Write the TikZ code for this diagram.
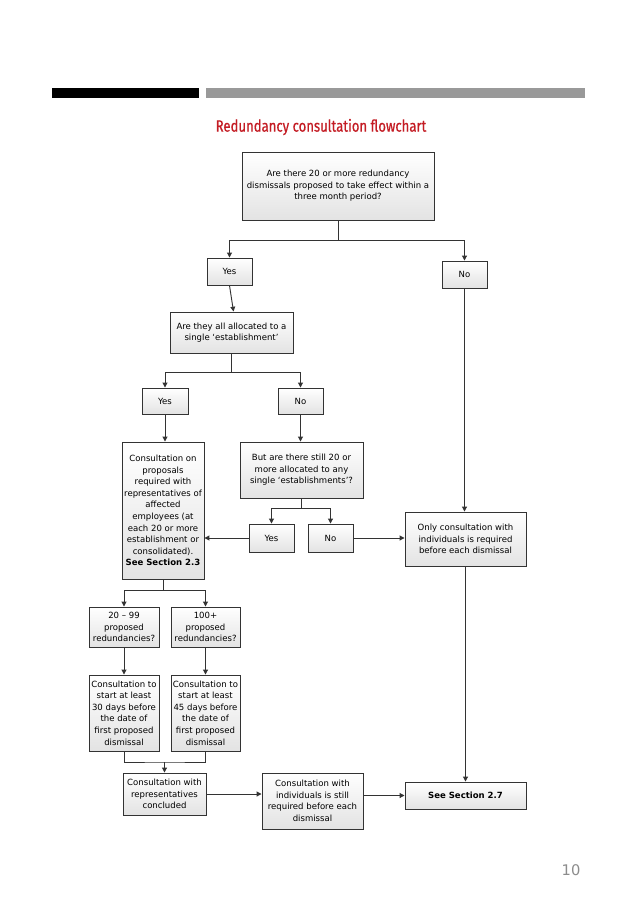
\documentclass[tikz,border=0pt]{standalone}
\usepackage{fontspec}
\setmainfont{DejaVu Sans}
\newfontfamily\titlefont[FakeStretch=0.80,FakeBold=0.6]{Fira Sans}
\usetikzlibrary{arrows.meta}
\definecolor{ttl}{HTML}{C41C24}
\definecolor{lnc}{HTML}{333333}
\begin{document}
\begin{tikzpicture}[x=0.75pt,y=-0.75pt,
  box/.style={draw=lnc, line width=0.7pt, top color=white, bottom color=black!11,
    align=center, inner sep=0pt, font=\fontsize{6.4}{8.7}\selectfont, text=black},
  sz/.style 2 args={minimum width={#1*0.75pt}, minimum height={#2*0.75pt}},
  arr/.style={draw=lnc, line width=0.7pt, -{Triangle[length=3.6pt,width=3.6pt]}},
  cn/.style={draw=lnc, line width=0.7pt}]
\useasboundingbox (0,0) rectangle (638,903);
\fill[white] (0,0) rectangle (638,903);
% header bars
\fill[black] (52,88) rectangle (199,98);
\fill[black!40] (206,88) rectangle (585,98);
\node[font=\titlefont\fontsize{12.3}{14}\selectfont, text=ttl] (title) at (321,127) {Redundancy consultation flowchart};
\node[font=\fontsize{11}{13}\selectfont, text=black!45] (pg) at (571,870) {10};

% nodes
\node[box, sz={192}{68}] (q1) at (338,186) {Are there 20 or more redundancy\\dismissals proposed to take effect within a\\three month period?};
\node[box, sz={45}{27}] (yes1) at (229.5,271.5) {Yes};
\node[box, sz={45}{27}] (no1) at (464.5,274.5) {No};
\node[box, sz={123}{41}] (q2) at (231.5,332.5) {Are they all allocated to a\\single ‘establishment’};
\node[box, sz={46}{26}] (yes2) at (165,401) {Yes};
\node[box, sz={45}{26}] (no2) at (300.5,401) {No};
\node[box, sz={82}{137}] (cons) at (163,510.5) {Consultation on\\proposals\\required with\\representatives of\\affected\\employees (at\\each 20 or more\\establishment or\\consolidated).\\\textbf{See Section 2.3}};
\node[box, sz={123}{56}] (q3) at (301.5,470) {But are there still 20 or\\more allocated to any\\single ‘establishments’?};
\node[box, sz={45}{28}] (yes3) at (271.5,538) {Yes};
\node[box, sz={45}{28}] (no3) at (330.5,538) {No};
\node[box, sz={121}{54}] (only) at (465.5,539) {Only consultation with\\individuals is required\\before each dismissal};
\node[box, sz={70}{40}] (r1) at (124,627) {20 – 99\\proposed\\redundancies?};
\node[box, sz={69}{40}] (r2) at (205.5,627) {100+\\proposed\\redundancies?};
\node[box, sz={70}{76}] (c30) at (124,713) {Consultation to\\start at least\\30 days before\\the date of\\first proposed\\dismissal};
\node[box, sz={69}{76}] (c45) at (205.5,713) {Consultation to\\start at least\\45 days before\\the date of\\first proposed\\dismissal};
\node[box, sz={83}{42}] (concl) at (164.5,794) {Consultation with\\representatives\\concluded};
\node[box, sz={101}{56}] (still) at (312.5,801) {Consultation with\\individuals is still\\required before each\\dismissal};
\node[box, sz={121}{27}] (see) at (465.5,795.5) {\textbf{See Section 2.7}};

% junctions
\coordinate (j1) at (338,240);
\coordinate (j2) at (231.5,372);
\coordinate (j3) at (301.5,508);
\coordinate (j4) at (163,590);
\coordinate (j5) at (164.5,762);

% connectors
\draw[cn] (q1.south) -- (j1);
\draw[arr] (j1) -| (yes1.north);
\draw[arr] (j1) -| (no1.north);
\draw[arr] (yes1.south) -- ([xshift=1.5pt]q2.north);
\draw[cn] (q2.south) -- (j2);
\draw[arr] (j2) -| (yes2.north);
\draw[arr] (j2) -| (no2.north);
\draw[arr] (yes2.south) -- (yes2.south |- cons.north);
\draw[arr] (no2.south) -- (no2.south |- q3.north);
\draw[cn] (q3.south) -- (j3);
\draw[arr] (j3) -| (yes3.north);
\draw[arr] (j3) -| (no3.north);
\draw[arr] (yes3.west) -- (yes3.west -| cons.east);
\draw[arr] (no3.east) -- (no3.east -| only.west);
\draw[arr] (no1.south) -- (no1.south |- only.north);
\draw[arr] (only.south) -- (see.north);
\draw[cn] (cons.south) -- (j4);
\draw[arr] (j4) -| (r1.north);
\draw[arr] (j4) -| (r2.north);
\draw[arr] (r1.south) -- (c30.north);
\draw[arr] (r2.south) -- (c45.north);
\draw[cn] (c30.south) |- (j5) -| (c45.south);
\draw[arr] (j5) -- (concl.north);
\draw[arr] (concl.east) -- (concl.east -| still.west);
\draw[arr] (see.west -| still.east) -- (see.west);
\end{tikzpicture}
\end{document}
